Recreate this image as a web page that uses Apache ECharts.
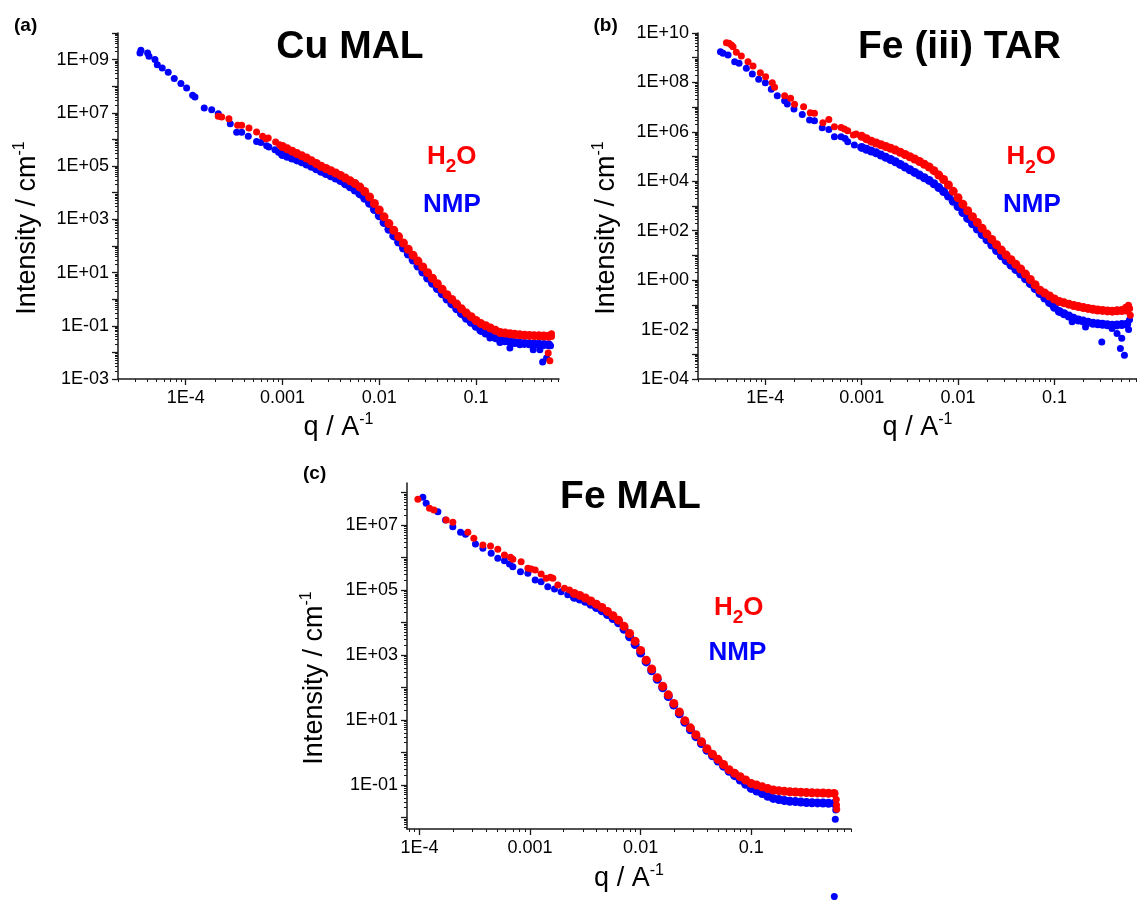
<!DOCTYPE html>
<html><head><meta charset="utf-8">
<script src="https://cdn.jsdelivr.net/npm/echarts@6/dist/echarts.min.js"></script>
<style>html,body{margin:0;padding:0;background:#fff}#c{width:1137px;height:900px}</style>
</head><body><div id="c"></div>
<script>
// ---- values (log10 q in 1/A, log10 I in 1/cm) ----
const logQGridAB = [-3,-2.95,-2.9,-2.85,-2.8,-2.75,-2.7,-2.65,-2.6,-2.55,-2.5,-2.45,-2.4,-2.35,-2.3,-2.25,-2.2,-2.15,-2.1,-2.05,-2,-1.95,-1.9,-1.85,-1.8,-1.75,-1.7,-1.65,-1.6,-1.55,-1.5,-1.45,-1.4,-1.35,-1.3,-1.25,-1.2,-1.15,-1.1,-1.05,-1,-0.95,-0.9,-0.85,-0.8,-0.75,-0.7,-0.65,-0.6,-0.55,-0.5,-0.45,-0.4,-0.35,-0.3,-0.25];
const logQGridC = [-2.6,-2.55,-2.5,-2.45,-2.4,-2.35,-2.3,-2.25,-2.2,-2.15,-2.1,-2.05,-2,-1.95,-1.9,-1.85,-1.8,-1.75,-1.7,-1.65,-1.6,-1.55,-1.5,-1.45,-1.4,-1.35,-1.3,-1.25,-1.2,-1.15,-1.1,-1.05,-1,-0.95,-0.9,-0.85,-0.8,-0.75,-0.7,-0.65,-0.6,-0.55,-0.5,-0.45,-0.4,-0.35,-0.3,-0.25];

// (a) Cu MAL
const cuH2O = [5.736,5.648,5.560,5.470,5.384,5.300,5.198,5.097,4.995,4.909,4.823,4.739,4.649,4.548,4.446,4.343,4.210,4.045,3.840,3.595,3.348,3.093,2.838,2.587,2.350,2.111,1.875,1.647,1.430,1.212,0.995,0.787,0.579,0.371,0.168,-0.009,-0.186,-0.363,-0.524,-0.663,-0.802,-0.917,-1.001,-1.087,-1.171,-1.252,-1.276,-1.301,-1.323,-1.342,-1.352,-1.362,-1.372,-1.378,-1.386,-1.397];
const cuNMP = [5.436,5.368,5.300,5.232,5.164,5.080,4.990,4.897,4.806,4.721,4.635,4.550,4.457,4.338,4.219,4.100,3.955,3.790,3.600,3.370,3.135,2.880,2.625,2.376,2.149,1.921,1.694,1.467,1.243,1.019,0.796,0.593,0.397,0.200,0.005,-0.179,-0.362,-0.546,-0.716,-0.870,-1.021,-1.174,-1.276,-1.362,-1.446,-1.529,-1.563,-1.597,-1.630,-1.654,-1.664,-1.674,-1.684,-1.697,-1.703,-1.712];
const cuH2OLow = [[-3.663,6.868],[-3.628,6.846],[-3.553,6.782],[-3.463,6.53],[-3.421,6.53],[-3.346,6.432],[-3.267,6.282],[-3.205,6.117],[-3.17,6.03],[-3.147,6.056],[-3.07,5.906],[-3.03,5.80]];
const cuNMPLow = [[-4.472,9.252],[-4.462,9.35],[-4.393,9.25],[-4.379,9.124],[-4.317,9.0],[-4.293,8.81],[-4.242,8.688],[-4.18,8.523],[-4.118,8.286],[-4.049,8.098],[-3.99,7.936],[-3.928,7.658],[-3.904,7.598],[-3.808,7.184],[-3.731,7.12],[-3.663,6.97],[-3.539,6.594],[-3.473,6.267],[-3.421,6.267],[-3.353,6.117],[-3.267,5.928],[-3.222,5.89],[-3.163,5.767],[-3.14,5.718],[-3.077,5.617],[-3.04,5.52]];
const cuH2OTail = [[-0.254,-2.026],[-0.237,-2.316],[-0.22,-1.40],[-0.22,-1.30]];
const cuNMPTail = [[-0.856,-1.462],[-0.753,-1.628],[-0.65,-1.838],[-0.547,-1.714],[-0.409,-1.902],[-0.34,-1.902],[-0.312,-2.365],[-0.271,-2.214],[-0.23,-1.75]];

// (b) Fe (iii) TAR
const tarH2O = [5.819,5.718,5.623,5.551,5.479,5.406,5.335,5.263,5.173,5.082,4.993,4.903,4.802,4.690,4.578,4.430,4.251,4.071,3.853,3.594,3.336,3.073,2.807,2.570,2.333,2.095,1.862,1.648,1.430,1.215,1.013,0.826,0.640,0.452,0.244,0.027,-0.188,-0.404,-0.524,-0.642,-0.761,-0.864,-0.918,-0.972,-1.026,-1.070,-1.107,-1.143,-1.178,-1.208,-1.225,-1.244,-1.255,-1.241,-1.228,-1.214];
const tarNMP = [5.371,5.297,5.221,5.150,5.061,4.970,4.880,4.791,4.683,4.575,4.467,4.359,4.251,4.143,4.035,3.901,3.745,3.587,3.405,3.194,2.977,2.738,2.497,2.281,2.065,1.849,1.633,1.417,1.201,0.985,0.788,0.607,0.428,0.248,0.055,-0.143,-0.342,-0.539,-0.726,-0.912,-1.100,-1.265,-1.358,-1.451,-1.545,-1.614,-1.657,-1.700,-1.743,-1.768,-1.785,-1.804,-1.822,-1.812,-1.799,-1.781];
const tarH2OLow = [[-4.404,9.609],[-4.377,9.582],[-4.352,9.514],[-4.335,9.447],[-4.301,9.217],[-4.249,9.069],[-4.18,8.839],[-4.128,8.664],[-4.052,8.394],[-3.997,8.232],[-3.928,7.989],[-3.904,7.8],[-3.8,7.463],[-3.738,7.355],[-3.697,7.112],[-3.603,7.018],[-3.534,6.775],[-3.49,6.748],[-3.403,6.37],[-3.341,6.505],[-3.283,6.208],[-3.214,6.181],[-3.179,6.113],[-3.145,6.046],[-3.086,5.87],[-3.058,5.911]];
const tarNMPLow = [[-4.466,9.244],[-4.439,9.177],[-4.387,9.109],[-4.318,8.839],[-4.273,8.772],[-4.197,8.569],[-4.135,8.34],[-4.069,8.124],[-4.0,7.989],[-3.938,7.719],[-3.876,7.463],[-3.8,7.26],[-3.772,7.125],[-3.703,6.923],[-3.617,6.707],[-3.541,6.478],[-3.49,6.451],[-3.41,6.167],[-3.341,6.1],[-3.283,5.803],[-3.214,5.803],[-3.172,5.736],[-3.145,5.6],[-3.076,5.466]];
const tarH2OTail = [[-0.231,-1.012],[-0.219,-1.147],[-0.212,-1.417],[-0.26,-1.10]];
const tarNMPTail = [[-0.508,-2.498],[-0.301,-2.348],[-0.315,-2.765],[-0.273,-3.036],[-0.816,-1.688],[-0.677,-1.891],[-0.539,-1.753],[-0.402,-1.955],[-0.35,-2.158],[-0.22,-1.60],[-0.23,-2.0]];

// (c) Fe MAL
const malH2O = [4.895,4.832,4.754,4.660,4.564,4.463,4.340,4.210,4.070,3.880,3.661,3.422,3.140,2.840,2.566,2.301,2.038,1.772,1.508,1.243,0.978,0.757,0.545,0.327,0.115,-0.053,-0.212,-0.371,-0.530,-0.638,-0.745,-0.850,-0.953,-1.005,-1.058,-1.112,-1.158,-1.177,-1.198,-1.210,-1.218,-1.227,-1.234,-1.240,-1.245,-1.250,-1.256,-1.261];
const malNMP = [4.775,4.723,4.651,4.557,4.462,4.361,4.245,4.120,3.990,3.790,3.558,3.319,3.060,2.785,2.515,2.249,1.987,1.721,1.456,1.192,0.926,0.699,0.486,0.276,0.064,-0.105,-0.264,-0.423,-0.582,-0.715,-0.847,-0.979,-1.108,-1.187,-1.267,-1.347,-1.416,-1.448,-1.480,-1.501,-1.514,-1.527,-1.541,-1.548,-1.553,-1.558,-1.563,-1.568];
const malH2OLow = [[-4.015,7.79],[-3.91,7.513],[-3.87,7.462],[-3.759,7.154],[-3.699,7.082],[-3.563,6.774],[-3.509,6.59],[-3.427,6.385],[-3.358,6.354],[-3.292,6.251],[-3.232,6.077],[-3.177,6.005],[-3.156,5.944],[-3.081,5.872],[-3.02,5.667],[-2.99,5.646],[-2.954,5.615],[-2.9,5.492],[-2.855,5.359],[-2.816,5.39],[-2.794,5.359],[-2.749,5.154],[-2.689,5.051],[-2.644,5.0]];
const malNMPLow = [[-3.97,7.851],[-3.94,7.667],[-3.834,7.41],[-3.765,7.154],[-3.699,6.949],[-3.629,6.774],[-3.584,6.713],[-3.494,6.415],[-3.427,6.282],[-3.352,6.128],[-3.292,5.974],[-3.232,5.903],[-3.186,5.8],[-3.156,5.718],[-3.087,5.564],[-3.02,5.513],[-2.954,5.308],[-2.9,5.256],[-2.84,5.103],[-2.779,5.031],[-2.719,4.949],[-2.659,4.85]];
const malH2OTail = [[-0.23,-1.45],[-0.228,-1.62],[-0.226,-1.75]];
const malNMPTail = [[-0.239,-2.055],[-0.235,-1.77]];
const malNMPOutlier = [[-0.248,-4.437]];

// tick labels
const xLabels = ['1E-4','0.001','0.01','0.1'];
const yLabelsA = ['1E-03','1E-01','1E+01','1E+03','1E+05','1E+07','1E+09'];
const yLabelsB = ['1E-04','1E-02','1E+00','1E+02','1E+04','1E+06','1E+08','1E+10'];
const yLabelsC = ['1E-01','1E+01','1E+03','1E+05','1E+07'];
const titles = ['Cu MAL','Fe (iii) TAR','Fe MAL'];
const panelTags = ['(a)','(b)','(c)'];
const seriesNames = ['H2O','NMP'];

// ---- helpers ----
const FONT = "'Liberation Sans', Arial, sans-serif";
const RED = '#ff0000', BLUE = '#0000ff', AX = '#1a1a1a';
const p10 = v => Math.pow(10, v);
const pairs = arr => arr.map(p => [p10(p[0]), p10(p[1])]);
const grid = (gq, gi) => gq.map((q, i) => [p10(q), p10(gi[i])]);
function decades(lo, hi) { const r = []; for (let e = lo; e <= hi; e++) r.push(p10(e)); return r; }
function minors(lo, hi, min, max) {
  const r = [];
  for (let e = lo; e <= hi; e++) for (let k = 2; k <= 9; k++) { const v = k * p10(e); if (v >= min && v <= max) r.push(v); }
  return r;
}
function labelFmt(list) {
  return v => list.find(s => Math.abs(Math.log10(+s) - Math.log10(v)) < 1e-6) || '';
}

const panels = [
  {grid: {left: 118, top: 33, width: 441, height: 346}, xMin: 2e-5, xMax: 0.72, yMin: 1e-3, yMax: 1e10, yDec: [-3, 10], yLab: yLabelsA, xDec: [-4, -1]},
  {grid: {left: 698, top: 33, width: 440, height: 346}, xMin: 2e-5, xMax: 0.72, yMin: 1e-4, yMax: 1e10, yDec: [-4, 10], yLab: yLabelsB, xDec: [-4, -1]},
  {grid: {left: 407, top: 483, width: 444, height: 346}, xMin: 7.7e-5, xMax: 0.8, yMin: 4.4e-3, yMax: 1.96e8, yDec: [-2, 8], yLab: yLabelsC, xDec: [-4, -1]}
];

const grids = [], xAxes = [], yAxes = [];
panels.forEach((p, i) => {
  grids.push(Object.assign({containLabel: false}, p.grid));
  xAxes[i] = {
    type: 'log', logBase: 10, gridIndex: i, min: p.xMin, max: p.xMax, position: 'bottom',
    axisLine: {show: true, onZero: false, lineStyle: {color: AX, width: 1.5}},
    axisTick: {show: true, length: 6, inside: false, customValues: decades(p.xDec[0], p.xDec[1]), lineStyle: {color: AX, width: 1.3}},
    axisLabel: {show: true, customValues: xLabels.map(Number), formatter: labelFmt(xLabels), fontSize: 18, color: '#000', fontFamily: FONT, margin: 10},
    splitLine: {show: false}, minorTick: {show: false}
  };
  xAxes[i + 3] = {
    type: 'log', logBase: 10, gridIndex: i, min: p.xMin, max: p.xMax, position: 'bottom',
    axisLine: {show: false, onZero: false},
    axisTick: {show: true, length: 3, customValues: minors(-5, -1, p.xMin, p.xMax), lineStyle: {color: AX, width: 1}},
    axisLabel: {show: false}, splitLine: {show: false}
  };
  yAxes[i] = {
    type: 'log', logBase: 10, gridIndex: i, min: p.yMin, max: p.yMax, position: 'left',
    axisLine: {show: true, onZero: false, lineStyle: {color: AX, width: 1.5}},
    axisTick: {show: true, length: 6, inside: false, customValues: decades(p.yDec[0], p.yDec[1]), lineStyle: {color: AX, width: 1.3}},
    axisLabel: {show: true, customValues: p.yLab.map(Number), formatter: labelFmt(p.yLab), fontSize: 18, color: '#000', fontFamily: FONT, margin: 9},
    splitLine: {show: false}, minorTick: {show: false}
  };
  yAxes[i + 3] = {
    type: 'log', logBase: 10, gridIndex: i, min: p.yMin, max: p.yMax, position: 'left',
    axisLine: {show: false, onZero: false},
    axisTick: {show: true, length: 3, customValues: minors(p.yDec[0] - 1, p.yDec[1], p.yMin, p.yMax), lineStyle: {color: AX, width: 1}},
    axisLabel: {show: false}, splitLine: {show: false}
  };
});

function sc(name, idx, data, color, size, clip) {
  return {
    name, type: 'scatter', xAxisIndex: idx, yAxisIndex: idx, data, symbol: 'circle', symbolSize: size,
    itemStyle: {color, opacity: 1}, silent: true, clip: clip !== false, emphasis: {disabled: true}
  };
}
const series = [
  sc(seriesNames[1], 0, grid(logQGridAB, cuNMP), BLUE, 9),
  sc(seriesNames[1], 0, pairs(cuNMPLow.concat(cuNMPTail)), BLUE, 7),
  sc(seriesNames[0], 0, grid(logQGridAB, cuH2O), RED, 9),
  sc(seriesNames[0], 0, pairs(cuH2OLow.concat(cuH2OTail)), RED, 7),
  sc(seriesNames[1], 1, grid(logQGridAB, tarNMP), BLUE, 9),
  sc(seriesNames[1], 1, pairs(tarNMPLow.concat(tarNMPTail)), BLUE, 7),
  sc(seriesNames[0], 1, grid(logQGridAB, tarH2O), RED, 9),
  sc(seriesNames[0], 1, pairs(tarH2OLow.concat(tarH2OTail)), RED, 7),
  sc(seriesNames[1], 2, grid(logQGridC, malNMP), BLUE, 9),
  sc(seriesNames[1], 2, pairs(malNMPLow.concat(malNMPTail)), BLUE, 7),
  sc(seriesNames[0], 2, grid(logQGridC, malH2O), RED, 9),
  sc(seriesNames[0], 2, pairs(malH2OLow.concat(malH2OTail)), RED, 7),
  sc(seriesNames[1], 2, pairs(malNMPOutlier), BLUE, 7, false)
];

// ---- text elements ----
function t(x, y, text, o) {
  return {type: 'text', x, y, rotation: o.rot || 0, silent: true, z: 100,
    style: {text, fill: o.fill || '#000', fontFamily: FONT, fontSize: o.fs, fontWeight: o.fw || 'normal',
      align: o.align || 'center', verticalAlign: 'middle', rich: o.rich}};
}
const supRich = {
  m: {fontSize: 27, fontFamily: FONT, fill: '#000', lineHeight: 32},
  s: {fontSize: 16, fontFamily: FONT, fill: '#000', lineHeight: 16, verticalAlign: 'top'}
};
function h2oRich(color) {
  return {
    m: {fontSize: 26, fontFamily: FONT, fontWeight: 'bold', fill: color, lineHeight: 40},
    b: {fontSize: 19, fontFamily: FONT, fontWeight: 'bold', fill: color, lineHeight: 19, verticalAlign: 'bottom'}
  };
}
const xTitle = '{m|q / A}{s|-1}';
const yTitle = '{m|Intensity / cm}{s|-1}';
const legendPos = [[427, 156.5, 423, 204.5], [1006.5, 157, 1003, 204.5], [714, 607.5, 708.5, 652.5]];
const titlePos = [[350, 47.5], [959.5, 47.5], [630.5, 497.5]];
const tagPos = [[14, 26], [593.5, 26], [303, 474]];
const xTitlePos = [[338.5, 428], [917.5, 428], [629, 879]];
const yTitlePos = [[28, 228], [607, 228], [315, 678]];

const graphic = [];
for (let i = 0; i < 3; i++) {
  graphic.push(t(titlePos[i][0], titlePos[i][1], titles[i], {fs: 39, fw: 'bold'}));
  graphic.push(t(tagPos[i][0], tagPos[i][1], panelTags[i], {fs: 19, fw: 'bold', align: 'left'}));
  graphic.push(t(xTitlePos[i][0], xTitlePos[i][1], xTitle, {fs: 27, rich: supRich}));
  graphic.push(t(yTitlePos[i][0], yTitlePos[i][1], yTitle, {fs: 27, rich: supRich, rot: Math.PI / 2}));
  graphic.push(t(legendPos[i][0], legendPos[i][1], '{m|H}{b|2}{m|O}', {fs: 26, fw: 'bold', align: 'left', fill: RED, rich: h2oRich(RED)}));
  graphic.push(t(legendPos[i][2], legendPos[i][3], seriesNames[1], {fs: 26, fw: 'bold', align: 'left', fill: BLUE}));
}

const chart = echarts.init(document.getElementById('c'), null, {renderer: 'canvas'});
chart.setOption({
  animation: false,
  backgroundColor: '#ffffff',
  grid: grids, xAxis: xAxes, yAxis: yAxes, series, graphic
});
</script>
</body></html>
